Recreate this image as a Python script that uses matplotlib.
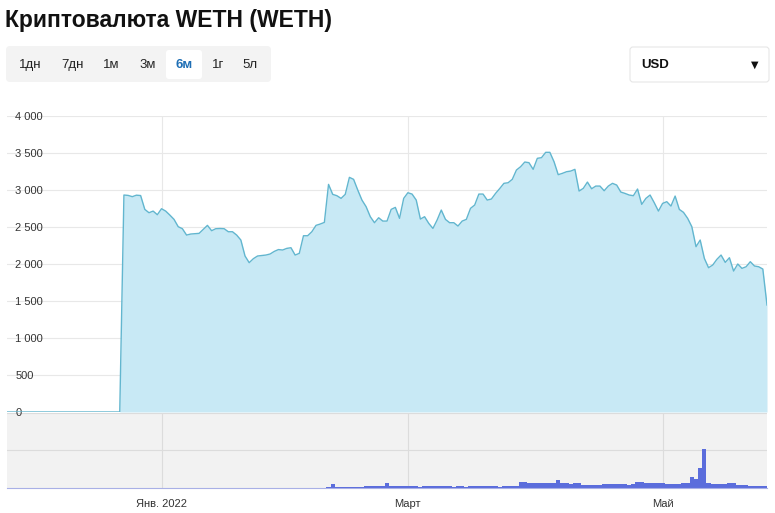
import matplotlib
matplotlib.use("Agg")
import matplotlib.pyplot as plt
from matplotlib.patches import FancyBboxPatch
import pandas as pd

plt.rcParams["font.family"] = ["Liberation Sans", "DejaVu Sans"]

TITLE = "Криптовалюта WETH (WETH)"
PERIODS = ["1дн", "7дн", "1м", "3м", "6м", "1г", "5л"]
ACTIVE_PERIOD = "6м"
CURRENCY = "USD"

START_DATE = "2021-11-25"

# daily close, USD (zero before listing on 2021-12-23)
price = [0] * 28 + [
    2932, 2927, 2910, 2930, 2925, 2738, 2693, 2715, 2666,
    2747, 2715, 2661, 2603, 2504, 2477, 2391, 2405, 2410, 2414,
    2468, 2522, 2450, 2477, 2480, 2477, 2436, 2436, 2391, 2324,
    2108, 2018, 2072, 2108, 2115, 2121, 2135, 2170, 2195, 2189,
    2211, 2220, 2121, 2144, 2382, 2382, 2436, 2522, 2540, 2562,
    3076, 2941, 2923, 2887, 2941, 3171, 3144, 2999, 2864, 2774,
    2639, 2558, 2625, 2580, 2580, 2738, 2765, 2617, 2887, 2963,
    2945, 2864, 2607, 2639, 2549, 2481, 2594, 2729, 2603, 2558,
    2558, 2513, 2580, 2603, 2752, 2797, 2945, 2945, 2864, 2878,
    2954, 3020, 3090, 3098, 3144, 3270, 3315, 3378, 3369, 3279,
    3428, 3437, 3509, 3509, 3382, 3207, 3225, 3247, 3256, 3279,
    2986, 3022, 3107, 3017, 3053, 3053, 2990, 3053, 3090, 3067,
    2972, 2954, 2932, 2923, 3013, 2806, 2887, 2932, 2828, 2715,
    2819, 2842, 2783, 2918, 2738, 2698, 2617, 2504, 2234, 2324,
    2076, 1950, 1986, 2063, 2121, 2022, 2085, 1905, 2000, 1941,
    1963, 2031, 1973, 1963, 1932, 1446,
]

# traded volume, relative units (100 = middle grid line)
volume = [0] * 77 + [
    2, 9, 2, 2, 2, 2, 2, 2, 2, 5, 3, 5, 5, 4, 13, 4, 4, 4, 3, 4,
    3, 3, 2, 4, 5, 5, 5, 4, 3, 3, 2, 3, 3, 2, 3, 3, 3, 4, 3, 3,
    3, 2, 3, 3, 3, 3, 16, 16, 12, 11, 12, 12, 12, 13, 11, 20, 13, 11, 10, 11,
    13, 8, 8, 7, 8, 8, 9, 9, 9, 10, 9, 9, 8, 9, 15, 16, 12, 11, 12, 12,
    12, 10, 10, 10, 9, 13, 11, 27, 22, 53, 103, 13, 9, 9, 10, 9, 12, 11, 7, 7,
    6, 5, 4, 4, 4, 3,
]

price_ticks = [0, 500, 1000, 1500, 2000, 2500, 3000, 3500, 4000]
month_ticks = ["2022-01-01", "2022-03-01", "2022-05-01"]
month_labels = ["Янв. 2022", "Март", "Май"]

dates = pd.date_range(START_DATE, periods=len(price), freq="D")
W, H = 775, 513

fig = plt.figure(figsize=(W / 100, H / 100), dpi=100)
fig.patch.set_facecolor("white")

# page chrome drawn in pixel coordinates
ui = fig.add_axes([0, 0, 1, 1], zorder=0)
ui.set_xlim(0, W)
ui.set_ylim(H, 0)
ui.axis("off")
ui.text(5, 27, TITLE, fontsize=16.5, fontweight="bold", color="#111111", va="baseline")
ui.add_patch(FancyBboxPatch((6, 46), 265, 36, boxstyle="round,pad=0,rounding_size=4",
                            fc="#f3f3f3", ec="none"))
ui.add_patch(FancyBboxPatch((166, 50), 36, 29, boxstyle="round,pad=0,rounding_size=3",
                            fc="white", ec="none"))
for label, cx in zip(PERIODS, [30, 72, 111, 148, 184, 218, 250]):
    active = label == ACTIVE_PERIOD
    ui.text(cx, 65, label, fontsize=9.5, ha="center", va="center",
            color="#1f6fb5" if active else "#222222",
            fontweight="bold" if active else "normal")
ui.add_patch(FancyBboxPatch((630, 47), 139, 35, boxstyle="round,pad=0,rounding_size=3",
                            fc="white", ec="#e6e6e6", lw=0.8))
ui.text(641, 64.5, CURRENCY, fontsize=9.5, fontweight="bold", va="center", color="#111111")
ui.text(755, 64.5, "▼", fontsize=7, va="center", ha="center", color="#111111",
        family=["DejaVu Sans"])

x0, x1 = 7, 767
ax = fig.add_axes([x0 / W, (H - 412) / H, (x1 - x0) / W, 296 / H], zorder=2)
vax = fig.add_axes([x0 / W, (H - 487.5) / H, (x1 - x0) / W, 74.5 / H], zorder=1, sharex=ax)
ax.patch.set_alpha(0)

ax.fill_between(dates, price, 0, color="#c8e9f5", lw=0)
ax.plot(dates, price, color="#62b6cf", lw=1.0)
ax.set_ylim(0, 4000)
ax.set_xlim(dates[0], dates[-1])
ax.set_yticks(price_ticks)
ax.set_yticklabels([f"{v:,}".replace(",", " ") for v in price_ticks])
for t in ax.get_yticklabels():
    t.set_horizontalalignment("left")
ax.tick_params(axis="y", length=0, pad=-6, labelsize=8, labelcolor="#333333")
ax.tick_params(axis="x", length=0, labelbottom=False)
ax.grid(True, color="#e8e8e8", lw=0.8)
ax.set_axisbelow(True)
for s in ax.spines.values():
    s.set_visible(False)

vax.set_facecolor("#f2f2f2")
vax.bar(dates, volume, width=1.0, color="#5b6ddc", lw=0)
vax.set_ylim(0, 200)
vax.set_yticks([100, 200])
vax.tick_params(axis="y", length=0, labelleft=False)
vax.grid(True, color="#dcdcdc", lw=0.8)
vax.set_axisbelow(True)
vax.set_xticks(pd.to_datetime(month_ticks))
vax.set_xticklabels(month_labels)
vax.tick_params(axis="x", length=0, pad=8, labelsize=8, labelcolor="#333333")
for name, s in vax.spines.items():
    s.set_visible(name == "bottom")
vax.spines["bottom"].set_color("#a9b0e6")

ax.set_xticks(pd.to_datetime(month_ticks))

fig.savefig("out.png", dpi=100)
